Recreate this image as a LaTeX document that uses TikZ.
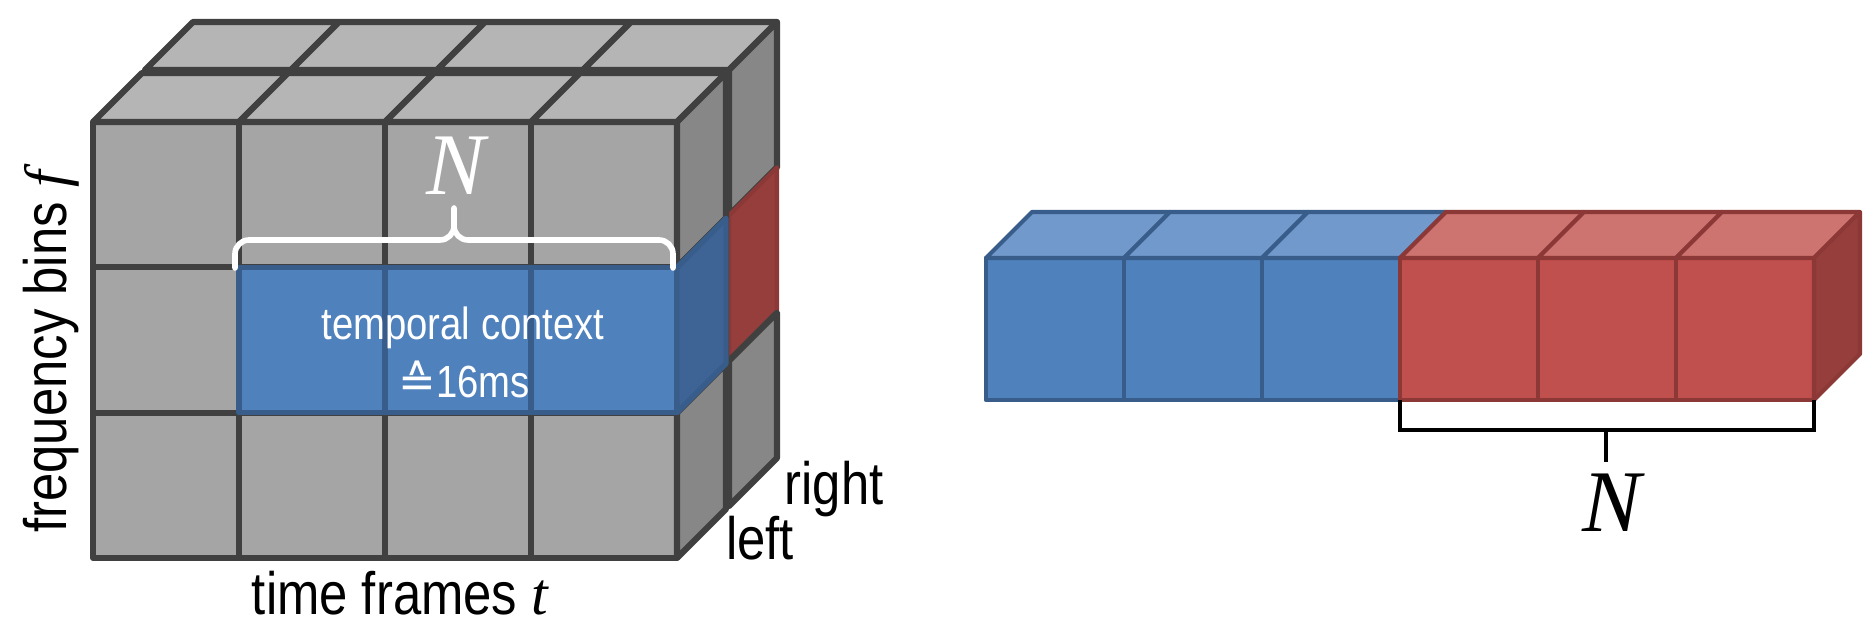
\documentclass[tikz,border=0pt]{standalone}
\usepackage{fontspec}
\newfontfamily\labfont{Liberation Sans}[FakeStretch=0.85]
\newfontfamily\symfont{DejaVu Sans}
\newfontfamily\varfont{Liberation Serif}
\newcommand\mvar[1]{{\varfont\itshape #1}}

\definecolor{gfrontc}{RGB}{165,165,165}
\definecolor{gtopc}{RGB}{181,181,181}
\definecolor{gsidec}{RGB}{135,135,135}
\definecolor{glinec}{RGB}{64,64,64}
\definecolor{bfrontc}{RGB}{79,129,189}
\definecolor{btopc}{RGB}{114,153,203}
\definecolor{bsidec}{RGB}{62,100,150}
\definecolor{blinec}{RGB}{56,93,138}
\definecolor{rfrontc}{RGB}{192,80,77}
\definecolor{rtopc}{RGB}{205,115,112}
\definecolor{rsidec}{RGB}{149,62,59}
\definecolor{rlinec}{RGB}{140,56,54}

\begin{document}
\begin{tikzpicture}[x=0.01cm,y=-0.01cm,line join=round,
  gfront/.style={fill=gfrontc,draw=glinec,line width=1.75pt},
  gtop/.style={fill=gtopc,draw=glinec,line width=1.75pt},
  gside/.style={fill=gsidec,draw=glinec,line width=1.75pt},
  bfront/.style={fill=bfrontc,draw=blinec,line width=1.2pt},
  btop/.style={fill=btopc,draw=blinec,line width=1.2pt},
  bside/.style={fill=bsidec,draw=blinec,line width=1.2pt},
  rfront/.style={fill=rfrontc,draw=rlinec,line width=1.2pt},
  rtop/.style={fill=rtopc,draw=rlinec,line width=1.2pt},
  rside/.style={fill=rsidec,draw=rlinec,line width=1.2pt},
  lab/.style={font=\labfont\fontsize{17}{20}\selectfont,inner sep=0pt},
  inlab/.style={font=\labfont\fontsize{12.8}{15}\selectfont,text=white,inner sep=0pt},
  bigN/.style={font=\fontsize{25}{30}\selectfont,inner sep=0pt}]

\useasboundingbox (0,0) rectangle (1863,631);

% ---------- stereo spectrogram block: back (right) channel ----------
\path[gfront] (145,70) rectangle ++(584,436);
\foreach \i in {0,...,3}
  \path[gtop] ({145+146*\i},70) -- ++(146,0) -- ++(48,-48) -- ++(-146,0) -- cycle;
\foreach \j/\st in {0/gside,1/rside,2/gside}
  \path[\st] (729,{70+145.333*\j}) -- ++(0,145.333) -- ++(48,-48) -- ++(0,-145.333) -- cycle;

% ---------- front (left) channel ----------
\foreach \i in {0,...,3}
  \foreach \j in {0,1,2}
    \path[gfront] ({93+146*\i},{122+145.333*\j}) rectangle ++(146,145.333);
\foreach \i in {0,...,3}
  \path[gtop] ({93+146*\i},122) -- ++(146,0) -- ++(49,-49) -- ++(-146,0) -- cycle;
\foreach \j in {0,1,2}
  \path[gside] (677,{122+145.333*\j}) -- ++(0,145.333) -- ++(49,-49) -- ++(0,-145.333) -- cycle;

% temporal context frames of the left channel
\foreach \i in {1,2,3}
  \path[bfront,line width=1.5pt] ({93+146*\i},267.333) rectangle ++(146,145.333);
\path[bside,line width=1.5pt] (677,267.333) -- ++(0,145.333) -- ++(49,-49) -- ++(0,-145.333) -- cycle;

% brace and label
\draw[white,line width=1.6pt,line cap=round]
  (235,268) -- (235,254) to[out=90,in=180] (249,240) -- (440,240)
  to[out=0,in=-90] (454,226) -- (454,208);
\draw[white,line width=1.6pt,line cap=round]
  (673,268) -- (673,254) to[out=90,in=0] (659,240) -- (468,240)
  to[out=180,in=-90] (454,226);
\node[bigN,text=white,anchor=base] (nleft) at (456,195) {\mvar{N}};

\node[inlab,anchor=base] (ctx) at (463,340) {temporal context};
\node[inlab,anchor=base] (dur) at (464,398) {{\symfont ≙}16ms};

% axis labels
\node[lab,rotate=90,anchor=base] (freq) at (67,352) {frequency bins \mvar{f}};
\node[lab,anchor=base] (time) at (400,615) {time frames \mvar{t}};
\node[lab,anchor=base] (rightlab) at (834,505) {right};
\node[lab,anchor=base] (leftlab) at (760,560) {left};

% ---------- concatenated input vector ----------
\foreach \i in {0,1,2}
  \path[bfront] ({986+138*\i},258) rectangle ++(138,142);
\foreach \i in {0,1,2}
  \path[btop] ({986+138*\i},258) -- ++(138,0) -- ++(46,-46) -- ++(-138,0) -- cycle;
\foreach \i in {3,4,5}
  \path[rfront] ({986+138*\i},258) rectangle ++(138,142);
\foreach \i in {3,4,5}
  \path[rtop] ({986+138*\i},258) -- ++(138,0) -- ++(46,-46) -- ++(-138,0) -- cycle;
\path[rside] (1814,258) -- ++(0,142) -- ++(46,-46) -- ++(0,-142) -- cycle;

% bracket under the right channel part
\coordinate (bl) at (1400,400);
\coordinate (br) at (1814,400);
\coordinate (bm) at (1606,430);
\coordinate (bt) at (1606,462);
\draw[line width=1.4pt,line join=miter] (bl) -- ++(0,30) -| (br);
\draw[line width=1.4pt] (bm) -- (bt);
\node[bigN,anchor=base] (nright) at (1612,532) {\mvar{N}};
\end{tikzpicture}
\end{document}
